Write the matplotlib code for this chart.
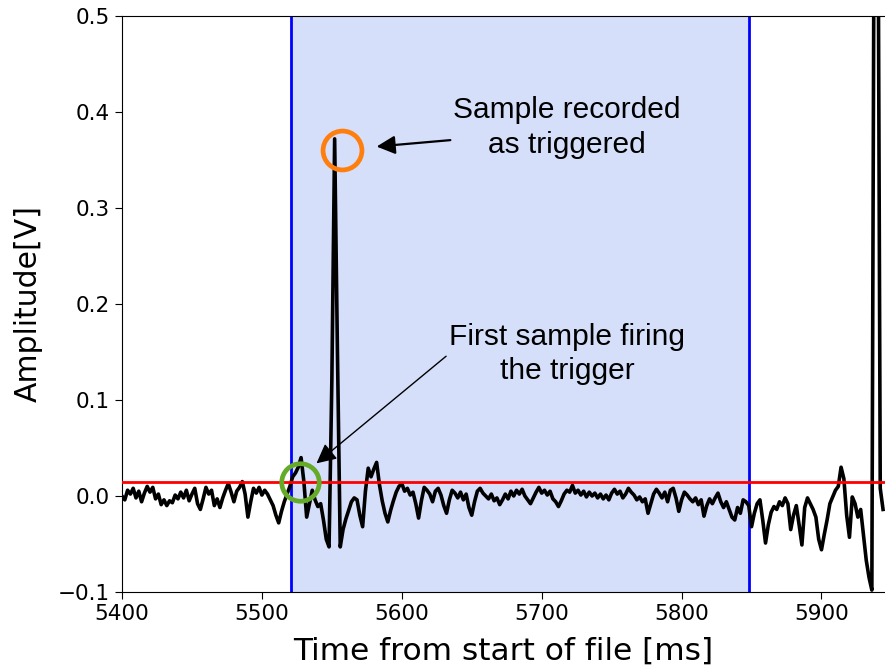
import numpy as np
import matplotlib
matplotlib.use("Agg")
import matplotlib.pyplot as plt

# ---- data ----
t_start, t_step = 5400, 2
signal_mv = [
    0, -4, 6, 2, 8,
    -2, 5, -6, 3, 10,
    4, 9, -3, 2, -9,
    -4, -10, -5, -7, 1,
    -3, 4, -2, 6, -5,
    2, 8, -8, -14, -3,
    9, 2, 6, -10, -3,
    -12, -2, 6, 13, 4,
    -6, 5, 9, 15, 2,
    -22, -6, 8, 3, 9,
    1, 6, 2, -4, -10,
    -20, -28, -16, -6, 2,
    10, 20, 24, 30, 40,
    15, -22, -8, 6, -4,
    -11, -8, -25, -45, -53,
    120, 372, 150, -53, -35,
    -24, -15, -6, -2, -4,
    -20, -32, 5, 29, 20,
    28, 35, 12, -5, -18,
    -27, -15, -5, 4, 10,
    13, 5, 8, 1, 4,
    -8, -23, -5, 9, 6,
    2, -6, 5, 8, 1,
    -10, -18, -4, 6, 3,
    -2, 4, -4, 2, -12,
    -20, -6, 5, 8, 3,
    0, -3, 2, -5, -2,
    -9, -4, 2, -3, 5,
    0, 6, 2, 7, 0,
    -4, -8, -2, 4, 9,
    3, 6, 1, 5, -3,
    -6, -11, -5, 2, 6,
    4, 11, 3, 6, 1,
    5, -1, 4, 0, 3,
    -2, 2, -3, 1, -4,
    3, 7, 2, 5, -2,
    2, 8, 4, 1, -4,
    -1, -6, -3, -18, -8,
    2, 7, 3, -2, 4,
    -6, 6, 8, -2, -16,
    -4, 4, 1, -3, -6,
    -2, -9, -4, -21, -10,
    -3, -8, -2, 3, -6,
    -12, -6, -14, -22, -25,
    -12, -18, -4, -6, -10,
    -32, -18, -8, -4, -25,
    -49, -30, -17, -11, -14,
    -6, -10, -2, -8, -35,
    -20, -10, -30, -51, -12,
    -2, -8, -14, -22, -45,
    -56, -40, -25, -8, -1,
    6, 10, 30, 18, -20,
    -43, -1, -8, -22, -14,
    -40, -67, -85, -98, 800,
    800, 8, -14,
]
time_ms = t_start + t_step * np.arange(len(signal_mv))
signal_v = np.array(signal_mv) / 1000.0

threshold_v = 0.015
window_ms = (5520.5, 5848.5)
trigger_pt = (5527.5, 0.015)
recorded_pt = (5557.5, 0.36)

xlim = (5400, 5945.4)
ylim = (-0.1, 0.5)
xticks = [5400, 5500, 5600, 5700, 5800, 5900]
yticks = [-0.1, 0.0, 0.1, 0.2, 0.3, 0.4, 0.5]

# ---- figure ----
fig = plt.figure(figsize=(8.85, 6.66), dpi=100)
ax = fig.add_axes([122 / 885, 74 / 666, 1 - 122 / 885, 576 / 666])

ax.axvspan(window_ms[0], window_ms[1], color="#d5dffa", zorder=0, lw=0)
ax.axvline(window_ms[0], color="blue", lw=2, zorder=1)
ax.axvline(window_ms[1], color="blue", lw=2, zorder=1)
ax.plot(time_ms, signal_v, color="black", lw=2.6, zorder=2)
ax.axhline(threshold_v, color="red", lw=2, zorder=3)

ax.plot(*recorded_pt, marker="o", ms=28, mfc="none", mec="#ff7f0e", mew=3.4, zorder=4)
ax.plot(*trigger_pt, marker="o", ms=27, mfc="none", mec="#66aa2a", mew=3.4, zorder=4)

ann_font = dict(family="Liberation Sans", fontsize=21.5, linespacing=1.3)
ax.annotate("Sample recorded\nas triggered", xy=(5582, 0.364), xytext=(5718, 0.384),
            ha="center", va="center", **ann_font,
            arrowprops=dict(arrowstyle="-|>", color="black", lw=1.6,
                            mutation_scale=28, shrinkA=0, shrinkB=0,
                            relpos=(0.0, 0.3)))
ax.annotate("First sample firing\nthe trigger", xy=(5539, 0.034), xytext=(5718, 0.148),
            ha="center", va="center", **ann_font,
            arrowprops=dict(arrowstyle="-|>", color="black", lw=1.0,
                            mutation_scale=30, shrinkA=0, shrinkB=0,
                            relpos=(0.0, 0.5)))

ax.set_xlim(*xlim)
ax.set_ylim(*ylim)
ax.set_xticks(xticks)
ax.set_yticks(yticks)
ax.tick_params(labelsize=15.5, length=5)
ax.set_xlabel("Time from start of file [ms]", fontsize=22.5, labelpad=9)
ax.set_ylabel("Amplitude[V]", fontsize=21.5, labelpad=11)
ax.spines["right"].set_visible(False)

fig.savefig("out.png", dpi=100)
